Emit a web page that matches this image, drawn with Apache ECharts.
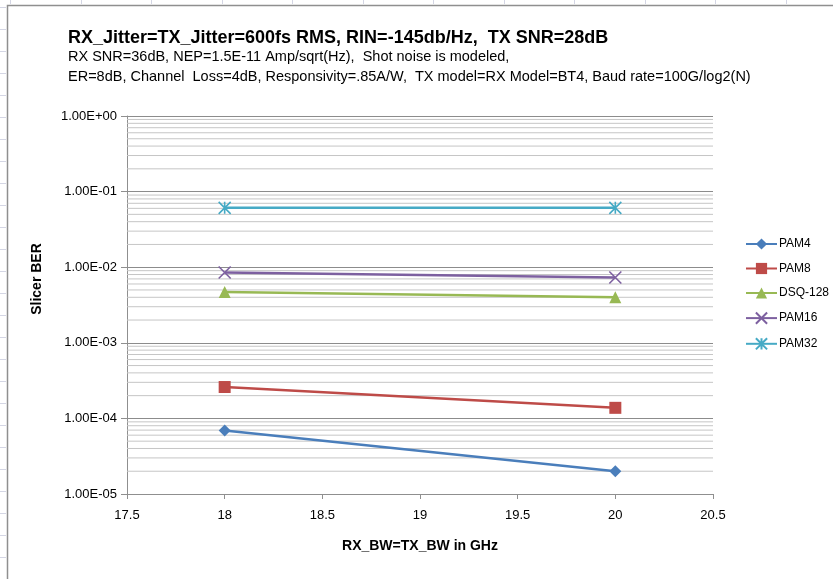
<!DOCTYPE html>
<html>
<head>
<meta charset="utf-8">
<script src="https://cdn.jsdelivr.net/npm/echarts@6/dist/echarts.min.js"></script>
<style>html,body{margin:0;padding:0;background:#fff}#c{width:833px;height:579px}</style>
</head>
<body>
<div id="c"></div>
<script>
// ---- data ----
const xTicks = [17.5, 18, 18.5, 19, 19.5, 20, 20.5];
const bw = [18, 20];
const pam4 = [6.9e-5, 2.0e-5];
const pam8 = [2.6e-4, 1.38e-4];
const dsq128 = [4.7e-3, 4.0e-3];
const pam16 = [8.5e-3, 7.3e-3];
const pam32 = [6.1e-2, 6.1e-2];
const seriesNames = ['PAM4', 'PAM8', 'DSQ-128', 'PAM16', 'PAM32'];
const titleText = 'RX_Jitter=TX_Jitter=600fs RMS, RIN=-145db/Hz,  TX SNR=28dB';
const subText1 = 'RX SNR=36dB, NEP=1.5E-11 Amp/sqrt(Hz),  Shot noise is modeled,';
const subText2 = 'ER=8dB, Channel  Loss=4dB, Responsivity=.85A/W,  TX model=RX Model=BT4, Baud rate=100G/log2(N)';
const yTitle = 'Slicer BER';
const xTitle = 'RX_BW=TX_BW in GHz';

const colors = ['#4A7EBB', '#BE4B48', '#98B954', '#7D60A0', '#46AAC5'];
const FONT = '"Liberation Sans", Arial, sans-serif';

// minor log gridlines (2..9 x 10^n)
const minorVals = [];
for (let e = -5; e < 0; e++) {
  for (let k = 2; k <= 9; k++) minorVals.push(k * Math.pow(10, e));
}

function fmtE(v) {
  const e = Math.round(Math.log10(v));
  const m = v / Math.pow(10, e);
  const sign = e < 0 ? '-' : '+';
  const a = Math.abs(e);
  return m.toFixed(2) + 'E' + sign + (a < 10 ? '0' + a : a);
}

function pts(arr) { return bw.map((x, i) => [x, arr[i]]); }

const xPath = 'path://M0,0L10,10M10,0L0,10';
const starPath = 'path://M5,0L5,10M0,0L10,10M10,0L0,10';

const chart = echarts.init(document.getElementById('c'), null, {renderer: 'canvas'});

const graphics = [
  {type: 'rect', shape: {x: 7.5, y: 5.5, width: 1000, height: 1000}, style: {fill: 'none', stroke: '#8f8f8f', lineWidth: 1.5}, z: 0}
];
for (let y = 7; y < 579; y += 22) {
  graphics.push({type: 'line', shape: {x1: 0, y1: y + 0.5, x2: 6, y2: y + 0.5}, style: {stroke: '#d4d6e4', lineWidth: 1}});
}
for (let x = 10; x < 833; x += 70.5) {
  graphics.push({type: 'line', shape: {x1: Math.round(x) + 0.5, y1: 0, x2: Math.round(x) + 0.5, y2: 4}, style: {stroke: '#d4d6e4', lineWidth: 1}});
}
graphics.push({
  type: 'text', x: 37, y: 279, rotation: Math.PI / 2,
  style: {text: yTitle, font: 'bold 14px ' + FONT, fill: '#000', align: 'center', verticalAlign: 'middle'}
});

const symbols = ['diamond', 'rect', 'triangle', xPath, starPath];
const sizes = [12, 12, 12, 12, 12];
const dataSets = [pam4, pam8, dsq128, pam16, pam32];

const series = [];
// minor gridlines drawn as flat lines across the x range
minorVals.forEach(v => {
  series.push({
    type: 'line', name: '_g' + v, data: [[xTicks[0], v], [xTicks[xTicks.length - 1], v]],
    z: 1, silent: true, symbol: 'none', legendHoverLink: false,
    lineStyle: {color: '#c6c6c6', width: 1}, emphasis: {disabled: true}, tooltip: {show: false}
  });
});
dataSets.forEach((d, i) => {
  const stroked = i >= 3;
  series.push({
    type: 'line', name: seriesNames[i], data: pts(d), z: 3,
    symbol: symbols[i], symbolSize: sizes[i], showAllSymbol: true,
    lineStyle: {color: colors[i], width: 2.5},
    itemStyle: stroked ? {color: 'rgba(0,0,0,0)', borderColor: colors[i], borderWidth: 1.6}
                       : {color: colors[i], borderColor: colors[i], borderWidth: 0},
    emphasis: {disabled: true}
  });
});

chart.setOption({
  animation: false,
  backgroundColor: '#fff',
  color: colors,
  title: {
    text: titleText,
    subtext: subText1 + '\n' + subText2,
    left: 63, top: 24, itemGap: 0,
    textStyle: {fontFamily: FONT, fontSize: 18, fontWeight: 'bold', color: '#000'},
    subtextStyle: {fontFamily: FONT, fontSize: 14.5, color: '#000', lineHeight: 20}
  },
  legend: {
    orient: 'vertical', left: 740, top: 233, itemGap: 12.5, itemWidth: 31, itemHeight: 14,
    data: seriesNames,
    textStyle: {fontFamily: FONT, fontSize: 12, color: '#000', padding: [0, 0, 0, -3]}
  },
  graphic: graphics,
  grid: {left: 127, right: 120, top: 116, bottom: 85, containLabel: false},
  xAxis: {
    type: 'value', min: 17.5, max: 20.5, interval: 0.5,
    name: xTitle, nameLocation: 'middle', nameGap: 45,
    nameTextStyle: {fontFamily: FONT, fontSize: 14, fontWeight: 'bold', color: '#000'},
    axisLine: {show: true, onZero: false, lineStyle: {color: '#8f8f8f', width: 1}},
    axisTick: {show: true, length: 5, lineStyle: {color: '#8f8f8f'}},
    axisLabel: {fontFamily: FONT, fontSize: 13, color: '#000', margin: 15},
    splitLine: {show: false}
  },
  yAxis: {
    type: 'log', logBase: 10, min: 1e-5, max: 1, splitNumber: 5,
    axisLine: {show: true, lineStyle: {color: '#8f8f8f', width: 1}},
    axisTick: {show: true, length: 6, lineStyle: {color: '#8f8f8f'}},
    axisLabel: {fontFamily: FONT, fontSize: 13, color: '#000', margin: 10, formatter: fmtE},
    splitLine: {show: true, lineStyle: {color: '#8c8c8c', width: 1}}
  },
  series: series
});
</script>
</body>
</html>
